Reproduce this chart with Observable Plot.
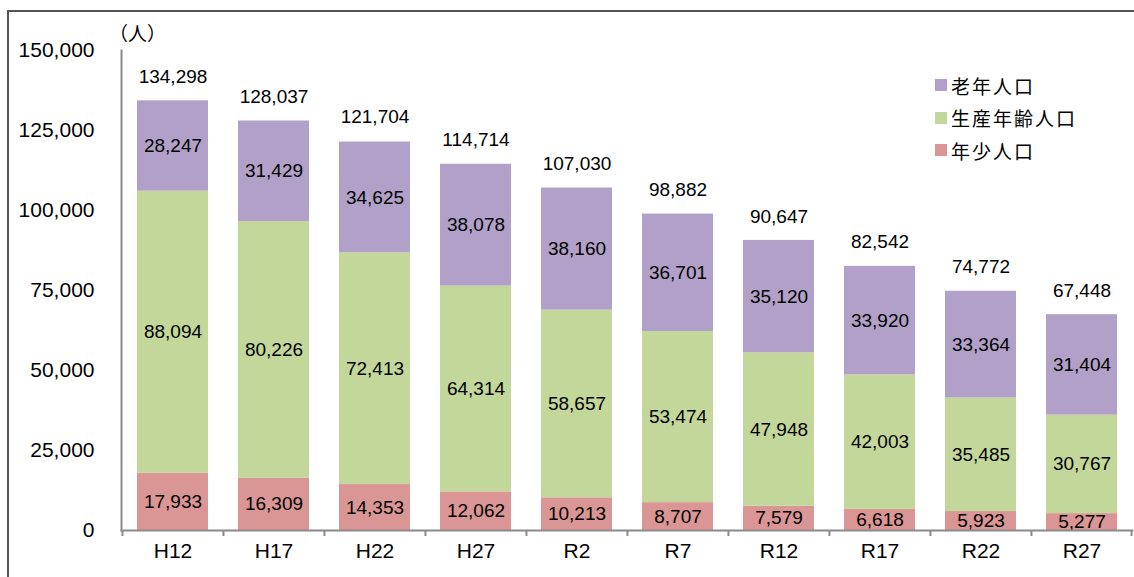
<!DOCTYPE html>
<html>
<head>
<meta charset="utf-8">
<script src="https://cdn.jsdelivr.net/npm/d3@7"></script>
<script src="https://cdn.jsdelivr.net/npm/@observablehq/plot@0.6"></script>
<style>
  html, body { margin: 0; padding: 0; background: #fff; }
  #wrap { position: relative; width: 1134px; height: 577px; overflow: hidden; font-family: "Liberation Sans", "Noto Sans CJK JP", sans-serif; }
  #wrap svg { position: absolute; left: 0; top: 0; }
  #border { position: absolute; left: 7px; top: 10px; right: -4px; bottom: -4px; border-left: 2px solid #555; border-top: 2px solid #555; pointer-events: none; }
  #unit { position: absolute; left: 109px; top: 19px; font-family: "Noto Sans CJK JP", sans-serif; font-size: 19px; color: #000; }
  #legend { position: absolute; left: 935px; top: 69px; font-family: "Noto Sans CJK JP", sans-serif; font-size: 19px; letter-spacing: 2px; color: #000; }
  #legend .row { display: flex; align-items: center; height: 32.5px; }
  #legend .sw { width: 12px; height: 12px; margin-right: 4px; }
</style>
</head>
<body>
<div id="wrap">
  <div id="chart"></div>
  <div id="border"></div>
  <div id="unit">（人）</div>
  <div id="legend"></div>
</div>
<script>
const categories = ["H12","H17","H22","H27","R2","R7","R12","R17","R22","R27"];
const seriesNames = ["年少人口","生産年齢人口","老年人口"];
const seriesColors = ["#DA9694","#C4D79B","#B1A0C7"];
const young   = [17933,16309,14353,12062,10213,8707,7579,6618,5923,5277];
const working = [88094,80226,72413,64314,58657,53474,47948,42003,35485,30767];
const elderly = [28247,31429,34625,38078,38160,36701,35120,33920,33364,31404];
const totals  = [134298,128037,121704,114714,107030,98882,90647,82542,74772,67448];
const yTicks  = [0,25000,50000,75000,100000,125000,150000];

const seriesValues = [young, working, elderly];
const rows = [];
categories.forEach((c, i) => {
  seriesNames.forEach((s, j) => rows.push({cat: c, series: s, value: seriesValues[j][i]}));
});
const totalRows = categories.map((c, i) => ({cat: c, total: totals[i]}));

const W = 1134, H = 577;
const mL = 121, mR = 2, mT = 50, mB = 47;
const step = (W - mL - mR) / categories.length;
const fmt = d3.format(",");
const yPerPx = 150000 / (H - mT - mB);

const chart = Plot.plot({
  width: W, height: H,
  marginLeft: mL, marginRight: mR, marginTop: mT, marginBottom: mB,
  style: {fontFamily: "'Liberation Sans', 'Noto Sans CJK JP', sans-serif", background: "transparent", color: "#000"},
  x: {domain: categories, paddingInner: 0.3, paddingOuter: 0.15, label: null},
  y: {domain: [0, 150000], label: null},
  color: {domain: seriesNames, range: seriesColors},
  marks: [
    Plot.barY(rows, {x: "cat", y: "value", fill: "series", order: seriesNames}),
    Plot.text(rows, Plot.stackY({x: "cat", y: "value", z: "series", order: seriesNames, text: d => fmt(d.value), fontSize: 19, fill: "#000"})),
    Plot.text(totalRows, {x: "cat", y: "total", text: d => fmt(d.total), dy: -24, fontSize: 19, fill: "#000"}),
    Plot.frame({anchor: "left", stroke: "#8a8a8a", strokeWidth: 2}),
    Plot.frame({anchor: "bottom", stroke: "#8a8a8a", strokeWidth: 2}),
    Plot.ruleX(categories, {x: d => d, dx: -step / 2, y1: 0, y2: -6 * yPerPx, stroke: "#8a8a8a", strokeWidth: 2, clip: false}),
    Plot.ruleX(categories.slice(-1), {x: d => d, dx: step / 2 - 1, y1: 0, y2: -6 * yPerPx, stroke: "#8a8a8a", strokeWidth: 2, clip: false}),
    Plot.axisY({ticks: yTicks, tickSize: 0, tickPadding: 27, tickFormat: fmt, fontSize: 21, label: null}),
    Plot.axisX({tickSize: 0, tickPadding: 13, fontSize: 21, label: null})
  ]
});
document.getElementById("chart").appendChild(chart);

const legend = document.getElementById("legend");
[2, 1, 0].forEach(j => {
  const row = document.createElement("div");
  row.className = "row";
  row.innerHTML = `<span class="sw" style="background:${seriesColors[j]}"></span><span>${seriesNames[j]}</span>`;
  legend.appendChild(row);
});
</script>
</body>
</html>
